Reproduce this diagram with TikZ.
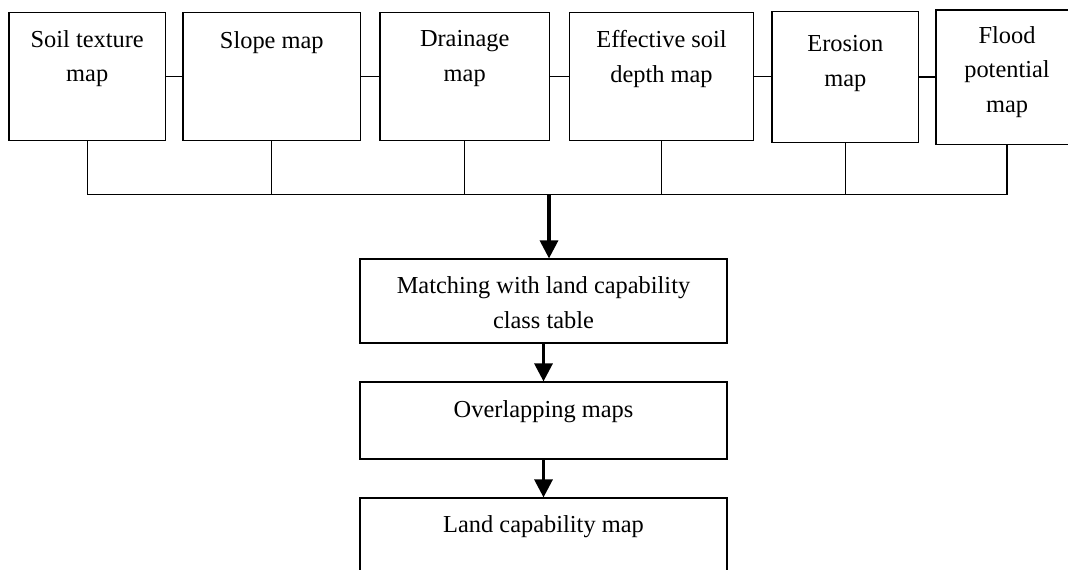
\documentclass[tikz,border=0pt]{standalone}
\usepackage{fontspec}
\setmainfont{Liberation Serif}
\usetikzlibrary{positioning,arrows.meta}

\begin{document}
\begin{tikzpicture}[x=0.5pt,y=0.5pt]

\tikzset{mapbox/.style = {draw, line width=.6pt, inner sep=0pt},
         maptext/.style = {align=center, inner sep=0pt, font=\fontsize{12.2}{17.25}\selectfont},
         link/.style = {line width=.6pt},
         flow/.style = {line width=1.6pt, -{Triangle[width=9pt,length=9pt]}}}

\useasboundingbox (0,0) rectangle (1068,569);
\clip (0,0) rectangle (1068,569);

% input maps
\node[mapbox, minimum width=78.2pt, minimum height=63.8pt] (soil) at (87.2,492.5) {};
\node[mapbox, minimum width=88.8pt, minimum height=63.8pt] (slope) at (271.8,492.5) {};
\node[mapbox, minimum width=84.7pt, minimum height=63.8pt] (drainage) at (464.7,492.5) {};
\node[mapbox, minimum width=91.8pt, minimum height=63.8pt] (depth) at (661.5,492.5) {};
\node[mapbox, minimum width=73.3pt, minimum height=65.2pt] (erosion) at (845.3,492.1) {};
\node[mapbox, minimum width=71pt, minimum height=67.3pt] (flood) at (1007,491.7) {};

\node[maptext, below=9pt of soil.north] (soiltxt) {Soil texture\\map};
\node[maptext, below=9.3pt of slope.north] (slopetxt) {Slope map};
\node[maptext, below=9pt of drainage.north] (drainagetxt) {Drainage\\map};
\node[maptext, below=9pt of depth.north] (depthtxt) {Effective soil\\depth map};
\node[maptext, below=12pt of erosion.north] (erosiontxt) {Erosion\\map};
\node[maptext, below=8.3pt of flood.north] (floodtxt) {Flood\\potential\\map};

% steps
\node[mapbox, minimum width=183.5pt, minimum height=42pt] (matching) at (543.5,268) {};
\node[mapbox, minimum width=183.5pt, minimum height=38.5pt] (overlap) at (543.5,148.5) {};
\node[mapbox, minimum width=183.5pt, minimum height=40pt] (landcap) at (543.5,31) {};

\node[maptext, below=9pt of matching.north] (matchingtxt) {Matching with land capability\\class table};
\node[maptext, below=9.5pt of overlap.north] (overlaptxt) {Overlapping maps};
\node[maptext, below=9pt of landcap.north] (landcaptxt) {Land capability map};

\coordinate (bus) at (549,374.7);

\foreach \a/\b in {soil/slope, slope/drainage, drainage/depth, depth/erosion, erosion/flood}
  \draw[link] (\a.east) -- (\a.east -| \b.west);

\draw[link] (soil.south) |- (flood.south |- bus) -- (flood.south);
\foreach \n in {slope, drainage, depth, erosion}
  \draw[link] (\n.south) -- (\n.south |- bus);

\draw[flow] (bus) -- (bus |- matching.north);
\draw[flow] (matching) -- (overlap);
\draw[flow] (overlap) -- (landcap);

\end{tikzpicture}
\end{document}
